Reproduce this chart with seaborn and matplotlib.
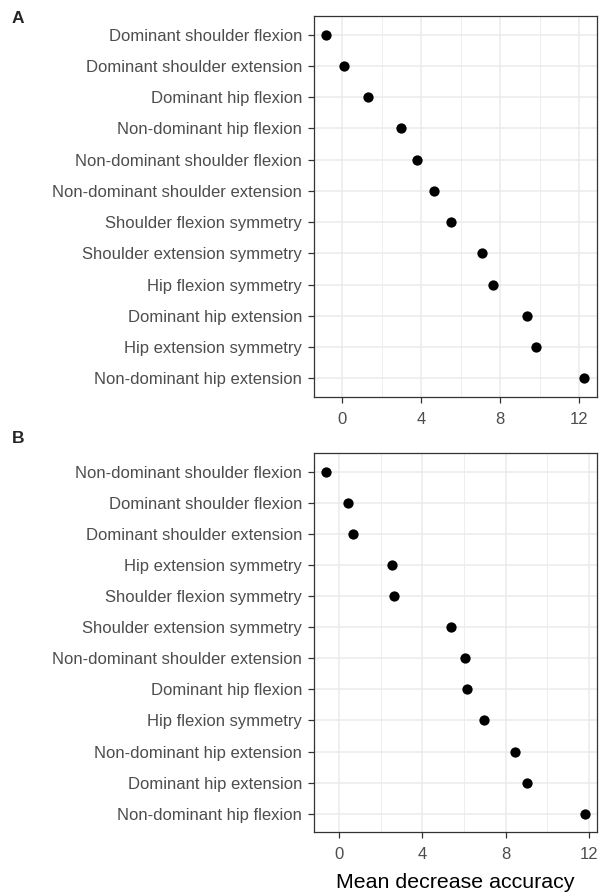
import numpy as np
import pandas as pd
import seaborn as sns
import matplotlib.pyplot as plt
from matplotlib.ticker import MultipleLocator

# panel A
labels_a = ['Dominant shoulder flexion', 'Dominant shoulder extension', 'Dominant hip flexion',
            'Non-dominant hip flexion', 'Non-dominant shoulder flexion', 'Non-dominant shoulder extension',
            'Shoulder flexion symmetry', 'Shoulder extension symmetry', 'Hip flexion symmetry',
            'Dominant hip extension', 'Hip extension symmetry', 'Non-dominant hip extension']
values_a = [-0.81, 0.10, 1.30, 2.97, 3.80, 4.64, 5.50, 7.07, 7.66, 9.37, 9.79, 12.24]

# panel B
labels_b = ['Non-dominant shoulder flexion', 'Dominant shoulder flexion', 'Dominant shoulder extension',
            'Hip extension symmetry', 'Shoulder flexion symmetry', 'Shoulder extension symmetry',
            'Non-dominant shoulder extension', 'Dominant hip flexion', 'Hip flexion symmetry',
            'Non-dominant hip extension', 'Dominant hip extension', 'Non-dominant hip flexion']
values_b = [-0.65, 0.42, 0.64, 2.54, 2.63, 5.35, 6.05, 6.15, 6.94, 8.46, 9.03, 11.79]

xticks = [0, 4, 8, 12]

sns.set_theme(style='white')
plt.rcParams['font.family'] = ['Liberation Sans', 'DejaVu Sans']

fig = plt.figure(figsize=(6, 8.94), dpi=100)
ax_a = fig.add_axes([0.523, 0.556, 0.472, 0.426])
ax_b = fig.add_axes([0.523, 0.069, 0.472, 0.424])


def panel(ax, labels, values, xlim):
    d = pd.DataFrame({'label': labels, 'value': values})
    ax.set_axisbelow(True)
    sns.stripplot(data=d, x='value', y='label', order=labels, jitter=False,
                  color='black', size=7.4, linewidth=0, ax=ax, zorder=3)
    ax.set_xlim(*xlim)
    ax.set_ylim(len(labels) - 0.4, -0.6)
    ax.set_xticks(xticks)
    ax.xaxis.set_minor_locator(MultipleLocator(2))
    ax.grid(True, which='major', color='#EBEBEB', linewidth=1.1)
    ax.grid(True, which='minor', axis='x', color='#EBEBEB', linewidth=0.6)
    ax.tick_params(axis='both', which='major', length=4.5, width=0.9, color='#333333',
                   labelcolor='#4D4D4D', labelsize=12)
    ax.tick_params(axis='y', pad=4)
    ax.tick_params(axis='x', pad=6)
    ax.tick_params(axis='x', which='minor', length=0)
    ax.tick_params(left=True, bottom=True)
    for s in ax.spines.values():
        s.set_color('#333333')
        s.set_linewidth(0.9)
    ax.set_ylabel('')
    ax.set_xlabel('')


panel(ax_a, labels_a, values_a, (-1.43, 12.9))
panel(ax_b, labels_b, values_b, (-1.22, 12.38))
ax_b.set_xlabel('Mean decrease accuracy', fontsize=15.4, color='black', labelpad=8)

fig.text(0.02, 0.979, 'A', fontsize=12.5, fontweight='bold', ha='left', va='center')
fig.text(0.02, 0.510, 'B', fontsize=12.5, fontweight='bold', ha='left', va='center')

fig.savefig('out.png', dpi=100)
